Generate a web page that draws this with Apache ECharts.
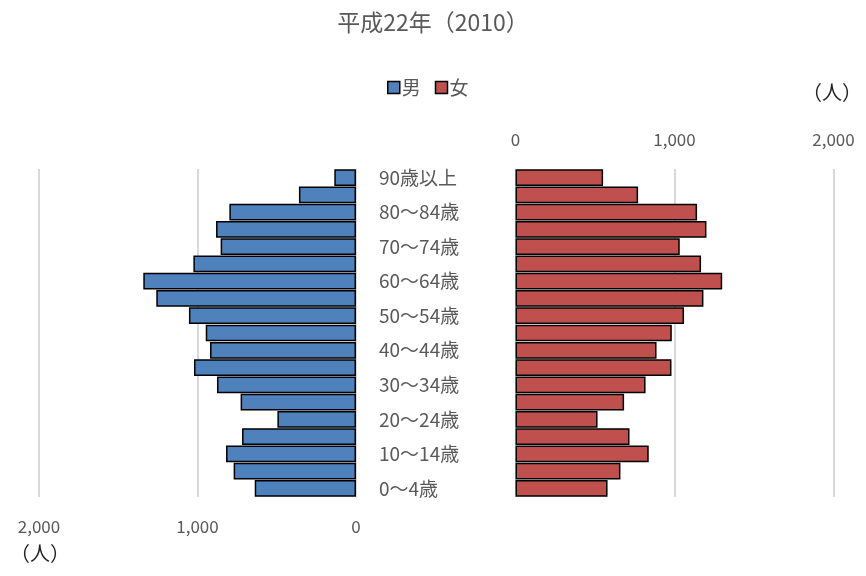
<!DOCTYPE html>
<html style="height: 100%">

<head>
    <meta charset="utf-8">
</head>

<body style="height: 100%; margin: 0">
    <div id="container" style="width: 866px; height: 576px"></div>

    <script src="https://cdn.jsdelivr.net/npm/echarts@6/dist/echarts.min.js"></script>

    <script type="text/javascript">
        // 年齢区分（下から上へ）
        var ageGroups = ['0～4歳', '5～9歳', '10～14歳', '15～19歳', '20～24歳', '25～29歳', '30～34歳',
            '35～39歳', '40～44歳', '45～49歳', '50～54歳', '55～59歳', '60～64歳', '65～69歳',
            '70～74歳', '75～79歳', '80～84歳', '85～89歳', '90歳以上'];

        // 男（人）
        var maleValues = [639, 772, 820, 719, 496, 728, 877, 1022, 921, 948,
            1054, 1260, 1342, 1026, 854, 883, 799, 360, 137];

        // 女（人）
        var femaleValues = [579, 660, 838, 717, 516, 683, 818, 981, 887, 983,
            1060, 1182, 1300, 1167, 1033, 1201, 1142, 771, 551];

        var axisTicks = [0, 1000, 2000];

        var FONT = '"Noto Sans CJK JP", "Noto Sans", sans-serif';
        var GRAY = '#595959';

        function fmt(v) {
            return String(v).replace(/\B(?=(\d{3})+(?!\d))/g, ',');
        }

        var myChart = echarts.init(document.getElementById('container'));

        var option = {
            animation: false,
            textStyle: { fontFamily: FONT },
            title: {
                text: '平成22年（2010）',
                left: 'center',
                top: 6,
                textStyle: { fontFamily: FONT, fontSize: 23, fontWeight: 'normal', color: GRAY }
            },
            legend: {
                data: ['男', '女'],
                left: 382,
                top: 73,
                icon: 'rect',
                itemWidth: 12,
                itemHeight: 12,
                itemGap: 14,
                textStyle: { fontFamily: FONT, fontSize: 19, color: GRAY, padding: [0, 0, 0, -3] },
                itemStyle: { borderColor: '#000', borderWidth: 1.5 }
            },
            graphic: [
                {
                    type: 'text', left: 10, top: 543,
                    style: { text: '（人）', font: '20px ' + FONT, fill: '#222' }
                },
                {
                    type: 'text', left: 802, top: 82,
                    style: { text: '（人）', font: '20px ' + FONT, fill: '#222' }
                }
            ],
            grid: [
                { left: 39, right: 510, top: 169, bottom: 79 },
                { left: 515.5, right: 32.5, top: 169, bottom: 79 }
            ],
            xAxis: [
                {
                    gridIndex: 0,
                    type: 'value',
                    inverse: true,
                    position: 'bottom',
                    min: axisTicks[0],
                    max: axisTicks[2],
                    interval: 1000,
                    axisLine: { show: false },
                    axisTick: { show: false },
                    splitLine: { show: true, lineStyle: { color: '#d9d9d9', width: 2 } },
                    axisLabel: {
                        margin: 21,
                        fontSize: 17,
                        color: GRAY,
                        fontFamily: FONT,
                        formatter: fmt
                    }
                },
                {
                    gridIndex: 1,
                    type: 'value',
                    position: 'top',
                    min: axisTicks[0],
                    max: axisTicks[2],
                    interval: 1000,
                    axisLine: { show: false },
                    axisTick: { show: false },
                    splitLine: { show: true, lineStyle: { color: '#d9d9d9', width: 2 } },
                    axisLabel: {
                        margin: 21,
                        fontSize: 17,
                        color: GRAY,
                        fontFamily: FONT,
                        formatter: fmt
                    }
                }
            ],
            yAxis: [
                {
                    gridIndex: 0,
                    type: 'category',
                    position: 'right',
                    data: ageGroups,
                    axisLine: { show: true, lineStyle: { color: '#d9d9d9', width: 1 } },
                    axisTick: { show: false },
                    axisLabel: {
                        margin: 23,
                        align: 'left',
                        fontSize: 19,
                        color: GRAY,
                        fontFamily: FONT,
                        interval: function (i) { return i % 2 === 0; }
                    }
                },
                {
                    gridIndex: 1,
                    type: 'category',
                    position: 'left',
                    data: ageGroups,
                    axisLine: { show: false },
                    axisTick: { show: false },
                    axisLabel: { show: false }
                }
            ],
            series: [
                {
                    name: '男',
                    type: 'bar',
                    xAxisIndex: 0,
                    yAxisIndex: 0,
                    data: maleValues,
                    barCategoryGap: '3%',
                    itemStyle: { color: '#4f81bd', borderColor: '#000', borderWidth: 1.5 }
                },
                {
                    name: '女',
                    type: 'bar',
                    xAxisIndex: 1,
                    yAxisIndex: 1,
                    data: femaleValues,
                    barCategoryGap: '3%',
                    itemStyle: { color: '#c0504d', borderColor: '#000', borderWidth: 1.5 }
                }
            ]
        };

        myChart.setOption(option);
    </script>
</body>

</html>
